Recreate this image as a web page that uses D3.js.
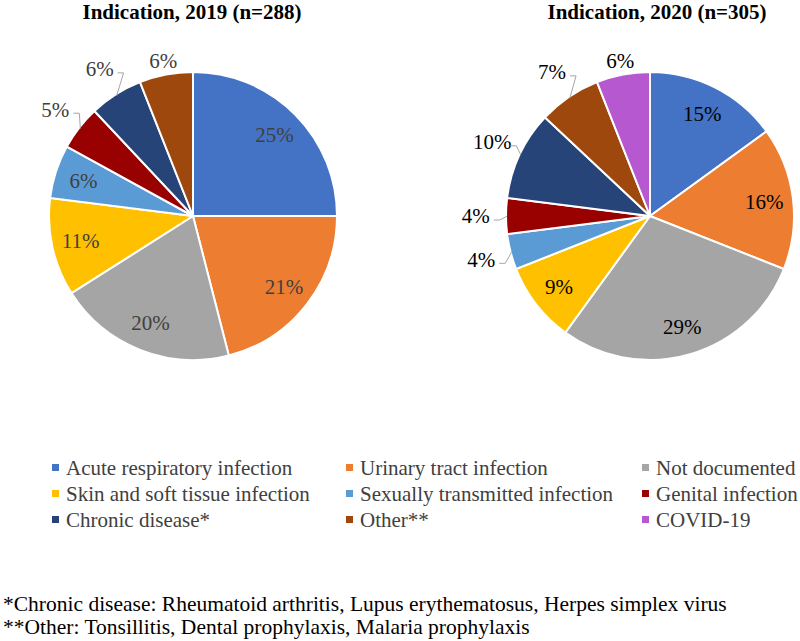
<!DOCTYPE html>
<html>
<head>
<meta charset="utf-8">
<script src="https://cdn.jsdelivr.net/npm/d3@7"></script>
<style>
  body { margin: 0; background: #fff; }
  svg { display: block; font-family: "Liberation Serif", "Times New Roman", serif; }
</style>
</head>
<body>
<svg id="chart" width="800" height="641" viewBox="0 0 800 641"></svg>
<script>
// Data
const categories = [
  "Acute respiratory infection",
  "Urinary tract infection",
  "Not documented",
  "Skin and soft tissue infection",
  "Sexually transmitted infection",
  "Genital infection",
  "Chronic disease*",
  "Other**",
  "COVID-19"
];
const colors = ["#4472c4", "#ed7d31", "#a5a5a5", "#ffc000", "#5b9bd5", "#990000", "#264478", "#9e480e", "#b658cf"];

const values2019 = [25, 21, 20, 11, 6, 5, 6, 6];
const values2020 = [15, 16, 29, 9, 4, 4, 10, 7, 6];

const title2019 = "Indication, 2019 (n=288)";
const title2020 = "Indication, 2020 (n=305)";

// labels Excel pushed outside the pie
const outside2019 = ["Genital infection", "Chronic disease*", "Other**"];
const outside2020 = ["Sexually transmitted infection", "Genital infection", "Chronic disease*", "Other**", "COVID-19"];

const footnotes = [
  "*Chronic disease: Rheumatoid arthritis, Lupus erythematosus, Herpes simplex virus",
  "**Other: Tonsillitis, Dental prophylaxis, Malaria prophylaxis"
];

const svg = d3.select("#chart");
const radius = 144;

const pie = d3.pie().sort(null).value((d) => d.value);
const arc = d3.arc().innerRadius(0).outerRadius(radius);
const labelArc = d3.arc().innerRadius(radius * 0.8).outerRadius(radius * 0.8);

function drawPie(cx, cy, titleX, title, values, outside, textColor) {
  const data = values.map((v, i) => ({ name: categories[i], value: v, color: colors[i] }));
  const arcs = pie(data);

  svg.append("text")
    .attr("x", titleX)
    .attr("y", 19)
    .attr("text-anchor", "middle")
    .attr("font-size", 21)
    .attr("font-weight", "bold")
    .attr("fill", "#000")
    .text(title);

  const g = svg.append("g").attr("transform", `translate(${cx},${cy})`);

  g.selectAll("path")
    .data(arcs)
    .join("path")
    .attr("d", arc)
    .attr("fill", (d) => d.data.color)
    .attr("stroke", "#fff")
    .attr("stroke-width", 2);

  arcs.forEach((d) => {
    const label = d.data.value + "%";
    if (!outside.includes(d.data.name)) {
      const [x, y] = labelArc.centroid(d);
      g.append("text")
        .attr("x", x)
        .attr("y", y)
        .attr("dy", "0.35em")
        .attr("text-anchor", "middle")
        .attr("font-size", 21)
        .attr("fill", textColor)
        .text(label);
      return;
    }
    const mid = (d.startAngle + d.endAngle) / 2;
    const dx = Math.sin(mid), dy = -Math.cos(mid);
    const vertical = Math.abs(dy) > 0.95;
    const k = vertical ? 1.1 : 1.21;
    const lx = dx * radius * k, ly = dy * radius * k;
    g.append("text")
      .attr("x", lx)
      .attr("y", ly)
      .attr("dy", "0.35em")
      .attr("text-anchor", "middle")
      .attr("font-size", 21)
      .attr("fill", textColor)
      .text(label);
    if (!vertical) {
      const ex = dx * radius * 0.99, ey = dy * radius * 0.99;
      const sx = lx + 18, sy = ly + 4;
      g.append("polyline")
        .attr("points", `${sx},${sy} ${sx + 6},${sy} ${ex},${ey}`)
        .attr("fill", "none")
        .attr("stroke", "#a6a6a6")
        .attr("stroke-width", 1);
    }
  });
}

drawPie(193, 216, 192, title2019, values2019, outside2019, "#404040");
drawPie(650, 216, 657, title2020, values2020, outside2020, "#000");

// Legend
const legendCols = [66, 360, 656];
const legendRows = [468, 494, 520];
const legend = svg.append("g")
  .selectAll("g")
  .data(categories)
  .join("g")
  .attr("transform", (d, i) => `translate(${legendCols[i % 3]},${legendRows[Math.floor(i / 3)]})`);

legend.append("rect")
  .attr("x", -14)
  .attr("y", -4)
  .attr("width", 7)
  .attr("height", 7)
  .attr("fill", (d, i) => colors[i]);

legend.append("text")
  .attr("x", 0)
  .attr("y", 0)
  .attr("dy", "0.35em")
  .attr("font-size", 21)
  .attr("fill", "#404040")
  .text((d) => d);

// Footnotes
svg.selectAll(".foot")
  .data(footnotes)
  .join("text")
  .attr("class", "foot")
  .attr("x", 3)
  .attr("y", (d, i) => 611 + i * 23)
  .attr("font-size", 21.5)
  .attr("fill", "#000")
  .text((d) => d);
</script>
</body>
</html>
